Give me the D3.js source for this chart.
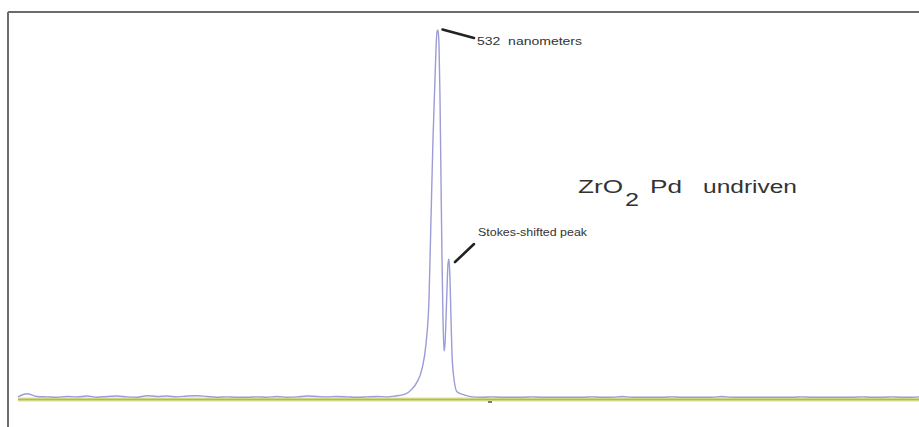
<!DOCTYPE html>
<html><head><meta charset="utf-8">
<script src="https://cdn.jsdelivr.net/npm/d3@7/dist/d3.min.js"></script>
<style>html,body{margin:0;padding:0;background:#fff;}svg{display:block;}</style>
</head><body>
<svg id="c" width="919" height="427"></svg>
<script>
// Spectrum: wavelength (nm) and intensity (arbitrary units)
const baseLeftNm = [490.1,491,492,493,494,495,496,497,498,499,500,501,502,503,504,505,506,507,508,509,510,511,512,513,514,515,516,517,518,519,520,521,522,523,524,525,526,527];
const baseLeftI  = [3,11,4,3,2,4,3,5,2,4,5,3,2,6,4,5,3,5,6,4,2,3,2,2,3,2,4,2,3,5,4,3,4,3,2,3,4,3];
const peakNm = [527.8,528.8,529.5,530.0,530.5,530.9,531.2,531.4,531.6,531.8,531.9,532.0,532.1,532.2,532.3,532.4,532.5,532.6,532.7,532.8,532.9,533.0,533.1,533.2,533.3,533.4,533.5,533.7,534.0,534.7];
const peakI  = [5,10,23,41,75,140,256,463,669,824,902,946,951,915,773,566,359,204,121,140,204,282,346,359,307,204,114,49,16,8];
const baseRightNm = [535.5,536.5,537.5,538.5,539.5,540.5,541.5,542.5,543.5,544.5,545.5,546.5,547.5,548.5,549.5,550.5,551.5,552.5,553.5,554.5,555.5,556.5,557.5,558.5,559.5,560.5,561.5,562.5,563.5,564.5,565.5,566.5,567.5,568.5,569.5,570.5,571.5,572.5,573.5,574.5,575.5,576.5,577.5,578.5,579.5,580.2];
const baseRightI  = [3,2,3,2,2,2,3,2,2,2,2,2,3,2,2,4,2,2,2,2,3,2,2,2,2,4,2,2,2,2,2,2,2,3,2,2,2,2,2,3,2,2,3,2,2,3];
const referenceNm = [490.1, 580.2];
const referenceI = [0, 0];
const annotations = ["532  nanometers", "Stokes-shifted peak"];
const titleParts = ["ZrO", "2", "Pd", "undriven"];

const nm = baseLeftNm.concat(peakNm, baseRightNm);
const inten = baseLeftI.concat(peakI, baseRightI);
const data = nm.map((d,i)=>({x:d,y:inten[i]}));

const svg = d3.select("#c");
const x = d3.scaleLinear().domain([490.1, 580.2]).range([18, 919]);
const y = d3.scaleLinear().domain([0, 1000]).range([398, 11]);

// frame
svg.append("line").attr("x1",8).attr("x2",919).attr("y1",12).attr("y2",12).attr("stroke","#6b6b6b").attr("stroke-width",2);
svg.append("line").attr("x1",8).attr("x2",8).attr("y1",12).attr("y2",427).attr("stroke","#6b6b6b").attr("stroke-width",2);

// reference baseline
const refData = referenceNm.map((d,i)=>({x:d,y:referenceI[i]}));
const refLine = d3.line().x(d=>x(d.x)).y(d=>y(d.y)+1.5);
svg.append("path").datum(refData).attr("d", refLine).attr("stroke","#eef1c4").attr("stroke-width",5).attr("fill","none");
svg.append("path").datum(refData).attr("d", refLine).attr("stroke","#b4bd3c").attr("stroke-width",2).attr("fill","none");

// spectrum
const line = d3.line().x(d=>x(d.x)).y(d=>y(d.y)).curve(d3.curveMonotoneX);
svg.append("path").datum(data).attr("d", line)
  .attr("fill","none").attr("stroke","#9c9cd6").attr("stroke-width",1.4).attr("stroke-linejoin","round");

// small tick below baseline
svg.append("line").attr("x1",x(537.1)).attr("x2",x(537.5)).attr("y1",402).attr("y2",402).attr("stroke","#555").attr("stroke-width",1.5);

// annotations
const f = "Liberation Sans, Arial, sans-serif";
svg.append("path").attr("d",`M${x(532.55)},${y(951)-0.5} L${x(535.7)},${y(951)+8}`)
  .attr("stroke","#222").attr("stroke-width",2.6).attr("stroke-linecap","round");
svg.append("text").attr("x",477).attr("y",45).attr("font-family",f).attr("font-size",11.5).attr("fill","#333")
  .attr("textLength",105).attr("lengthAdjust","spacingAndGlyphs").style("white-space","pre").text(annotations[0]);
svg.append("path").attr("d",`M${x(533.8)},${y(359)+3} L${x(535.7)},${y(359)-15}`)
  .attr("stroke","#222").attr("stroke-width",2.6).attr("stroke-linecap","round");
svg.append("text").attr("x",478).attr("y",236).attr("font-family",f).attr("font-size",11.5).attr("fill","#333")
  .attr("textLength",109).attr("lengthAdjust","spacingAndGlyphs").text(annotations[1]);

const big = (txt, x0, y0, len, fs) => svg.append("text").attr("x",x0).attr("y",y0).attr("font-family",f)
  .attr("font-size",fs).attr("fill","#333").attr("textLength",len).attr("lengthAdjust","spacingAndGlyphs").text(txt);
big(titleParts[0], 578, 193, 45, 17.5);
big(titleParts[1], 625, 206, 14, 17.5);
big(titleParts[2], 650, 193, 32, 17.5);
big(titleParts[3], 703, 193, 94, 17.5);
</script>
</body></html>
